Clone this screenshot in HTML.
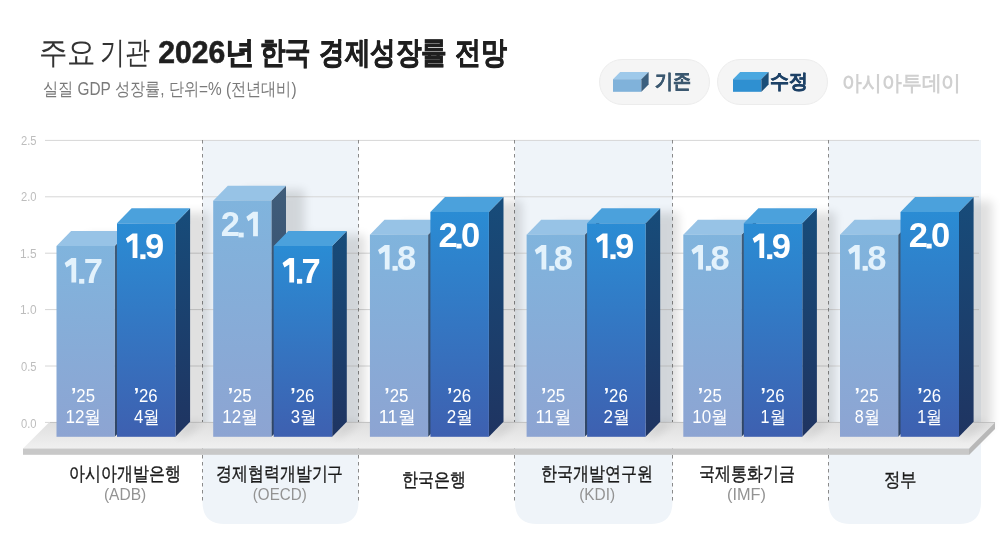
<!DOCTYPE html><html><head><meta charset="utf-8"><style>
html,body{margin:0;padding:0;background:#fff;}
#c{position:relative;width:1000px;height:538px;overflow:hidden;}
</style></head><body><div id="c"><svg width="1000" height="538" viewBox="0 0 1000 538" style="position:absolute;left:0;top:0;will-change:transform"><defs>
<linearGradient id="lf" x1="0" y1="0" x2="0" y2="1"><stop offset="0" stop-color="#80b4dd"/><stop offset="1" stop-color="#8da4d2"/></linearGradient>
<linearGradient id="df" x1="0" y1="0" x2="0" y2="1"><stop offset="0" stop-color="#2a8cd4"/><stop offset="1" stop-color="#3e60b0"/></linearGradient>
<linearGradient id="ds" x1="0" y1="0" x2="0" y2="1"><stop offset="0" stop-color="#174c7a"/><stop offset="1" stop-color="#1f3461"/></linearGradient>
<linearGradient id="ls" x1="0" y1="0" x2="0" y2="1"><stop offset="0" stop-color="#405d7a"/><stop offset="1" stop-color="#2f4566"/></linearGradient>
<linearGradient id="pt" x1="0" y1="0" x2="0" y2="1"><stop offset="0" stop-color="#dfdfdf"/><stop offset="1" stop-color="#f0f0f0"/></linearGradient>
<filter id="blur" x="-50%" y="-50%" width="200%" height="200%"><feGaussianBlur stdDeviation="7"/></filter>
</defs><path d="M202.5,140 H358.5 V502 Q358.5,524 336.5,524 H224.5 Q202.5,524 202.5,502 Z" fill="#eff4f9"/><path d="M515,140 H672.5 V502 Q672.5,524 650.5,524 H537 Q515,524 515,502 Z" fill="#eff4f9"/><path d="M828.5,140 H981 V502 Q981,524 959,524 H850.5 Q828.5,524 828.5,502 Z" fill="#eff4f9"/><line x1="45" y1="140.40" x2="979" y2="140.40" stroke="#d6d6d6" stroke-width="1"/><line x1="45" y1="196.80" x2="979" y2="196.80" stroke="#d6d6d6" stroke-width="1"/><line x1="45" y1="253.20" x2="979" y2="253.20" stroke="#d6d6d6" stroke-width="1"/><line x1="45" y1="309.60" x2="979" y2="309.60" stroke="#d6d6d6" stroke-width="1"/><line x1="45" y1="366.00" x2="979" y2="366.00" stroke="#d6d6d6" stroke-width="1"/><line x1="45" y1="422.40" x2="979" y2="422.40" stroke="#d6d6d6" stroke-width="1"/><line x1="202.5" y1="140" x2="202.5" y2="502" stroke="#8a8a8a" stroke-width="1" stroke-dasharray="3.5,3.5"/><line x1="358.5" y1="140" x2="358.5" y2="502" stroke="#8a8a8a" stroke-width="1" stroke-dasharray="3.5,3.5"/><line x1="514.5" y1="140" x2="514.5" y2="502" stroke="#8a8a8a" stroke-width="1" stroke-dasharray="3.5,3.5"/><line x1="672.5" y1="140" x2="672.5" y2="502" stroke="#8a8a8a" stroke-width="1" stroke-dasharray="3.5,3.5"/><line x1="828.5" y1="140" x2="828.5" y2="502" stroke="#8a8a8a" stroke-width="1" stroke-dasharray="3.5,3.5"/><filter id="sb" x="-50%" y="-50%" width="200%" height="200%"><feGaussianBlur stdDeviation="5"/></filter><g filter="url(#sb)" opacity="0.12" transform="translate(18,4)"><polygon points="56.5,245.99000000000004 71.5,230.99000000000004 129.7,230.99000000000004 129.7,421.8 114.7,436.8 56.5,436.8" fill="#000"/><polygon points="117.0,223.33000000000004 132.0,208.33000000000004 190.5,208.33000000000004 190.5,421.8 175.5,436.8 117.0,436.8" fill="#000"/><polygon points="213.2,200.67000000000002 228.2,185.67000000000002 286.4,185.67000000000002 286.4,421.8 271.4,436.8 213.2,436.8" fill="#000"/><polygon points="273.7,245.99000000000004 288.7,230.99000000000004 347.2,230.99000000000004 347.2,421.8 332.2,436.8 273.7,436.8" fill="#000"/><polygon points="369.9,234.66000000000003 384.9,219.66000000000003 443.09999999999997,219.66000000000003 443.09999999999997,421.8 428.09999999999997,436.8 369.9,436.8" fill="#000"/><polygon points="430.4,212.00000000000003 445.4,197.00000000000003 503.9,197.00000000000003 503.9,421.8 488.9,436.8 430.4,436.8" fill="#000"/><polygon points="526.5999999999999,234.66000000000003 541.5999999999999,219.66000000000003 599.8,219.66000000000003 599.8,421.8 584.8,436.8 526.5999999999999,436.8" fill="#000"/><polygon points="587.0999999999999,223.33000000000004 602.0999999999999,208.33000000000004 660.5999999999999,208.33000000000004 660.5999999999999,421.8 645.5999999999999,436.8 587.0999999999999,436.8" fill="#000"/><polygon points="683.3,234.66000000000003 698.3,219.66000000000003 756.5,219.66000000000003 756.5,421.8 741.5,436.8 683.3,436.8" fill="#000"/><polygon points="743.8,223.33000000000004 758.8,208.33000000000004 817.3,208.33000000000004 817.3,421.8 802.3,436.8 743.8,436.8" fill="#000"/><polygon points="840.0,234.66000000000003 855.0,219.66000000000003 913.2,219.66000000000003 913.2,421.8 898.2,436.8 840.0,436.8" fill="#000"/><polygon points="900.5,212.00000000000003 915.5,197.00000000000003 974.0,197.00000000000003 974.0,421.8 959.0,436.8 900.5,436.8" fill="#000"/></g><polygon points="49,422.5 995,422.5 969,448.5 23,448.5" fill="url(#pt)"/><line x1="50" y1="422.5" x2="995" y2="422.5" stroke="#c4c4c4" stroke-width="1"/><rect x="23" y="448.5" width="946" height="6.3" fill="#c8c8c8"/><polygon points="995,422.5 995,429 969,455 969,448.5" fill="#b8b8b8"/><filter id="pb" x="-50%" y="-50%" width="200%" height="200%"><feGaussianBlur stdDeviation="4"/></filter><g filter="url(#pb)" opacity="0.10"><polygon points="175.5,436.8 190.5,421.8 204.5,421.8 183.5,436.8" fill="#000"/><polygon points="332.2,436.8 347.2,421.8 361.2,421.8 340.2,436.8" fill="#000"/><polygon points="488.9,436.8 503.9,421.8 517.9,421.8 496.9,436.8" fill="#000"/><polygon points="645.5999999999999,436.8 660.5999999999999,421.8 674.5999999999999,421.8 653.5999999999999,436.8" fill="#000"/><polygon points="802.3,436.8 817.3,421.8 831.3,421.8 810.3,436.8" fill="#000"/><polygon points="959.0,436.8 974.0,421.8 988.0,421.8 967.0,436.8" fill="#000"/></g><polygon points="114.7,245.99000000000004 129.3,230.99000000000004 129.3,421.8 114.7,436.8" fill="url(#ls)"/><polygon points="56.5,245.99000000000004 71.1,230.99000000000004 129.3,230.99000000000004 114.7,245.99000000000004" fill="#97c3e6"/><rect x="56.5" y="245.99000000000004" width="58.2" height="190.80999999999997" fill="url(#lf)"/><polygon points="175.5,223.33000000000004 190.1,208.33000000000004 190.1,421.8 175.5,436.8" fill="url(#ds)"/><polygon points="117.0,223.33000000000004 131.6,208.33000000000004 190.1,208.33000000000004 175.5,223.33000000000004" fill="#4ba1dc"/><rect x="117.0" y="223.33000000000004" width="58.5" height="213.46999999999997" fill="url(#df)"/><polygon points="271.4,200.67000000000002 286.0,185.67000000000002 286.0,421.8 271.4,436.8" fill="url(#ls)"/><polygon points="213.2,200.67000000000002 227.79999999999998,185.67000000000002 286.0,185.67000000000002 271.4,200.67000000000002" fill="#97c3e6"/><rect x="213.2" y="200.67000000000002" width="58.2" height="236.13" fill="url(#lf)"/><polygon points="332.2,245.99000000000004 346.8,230.99000000000004 346.8,421.8 332.2,436.8" fill="url(#ds)"/><polygon points="273.7,245.99000000000004 288.3,230.99000000000004 346.8,230.99000000000004 332.2,245.99000000000004" fill="#4ba1dc"/><rect x="273.7" y="245.99000000000004" width="58.5" height="190.80999999999997" fill="url(#df)"/><polygon points="428.09999999999997,234.66000000000003 442.7,219.66000000000003 442.7,421.8 428.09999999999997,436.8" fill="url(#ls)"/><polygon points="369.9,234.66000000000003 384.5,219.66000000000003 442.7,219.66000000000003 428.09999999999997,234.66000000000003" fill="#97c3e6"/><rect x="369.9" y="234.66000000000003" width="58.2" height="202.14" fill="url(#lf)"/><polygon points="488.9,212.00000000000003 503.5,197.00000000000003 503.5,421.8 488.9,436.8" fill="url(#ds)"/><polygon points="430.4,212.00000000000003 445.0,197.00000000000003 503.5,197.00000000000003 488.9,212.00000000000003" fill="#4ba1dc"/><rect x="430.4" y="212.00000000000003" width="58.5" height="224.79999999999998" fill="url(#df)"/><polygon points="584.8,234.66000000000003 599.4,219.66000000000003 599.4,421.8 584.8,436.8" fill="url(#ls)"/><polygon points="526.5999999999999,234.66000000000003 541.1999999999999,219.66000000000003 599.4,219.66000000000003 584.8,234.66000000000003" fill="#97c3e6"/><rect x="526.5999999999999" y="234.66000000000003" width="58.2" height="202.14" fill="url(#lf)"/><polygon points="645.5999999999999,223.33000000000004 660.1999999999999,208.33000000000004 660.1999999999999,421.8 645.5999999999999,436.8" fill="url(#ds)"/><polygon points="587.0999999999999,223.33000000000004 601.6999999999999,208.33000000000004 660.1999999999999,208.33000000000004 645.5999999999999,223.33000000000004" fill="#4ba1dc"/><rect x="587.0999999999999" y="223.33000000000004" width="58.5" height="213.46999999999997" fill="url(#df)"/><polygon points="741.5,234.66000000000003 756.1,219.66000000000003 756.1,421.8 741.5,436.8" fill="url(#ls)"/><polygon points="683.3,234.66000000000003 697.9,219.66000000000003 756.1,219.66000000000003 741.5,234.66000000000003" fill="#97c3e6"/><rect x="683.3" y="234.66000000000003" width="58.2" height="202.14" fill="url(#lf)"/><polygon points="802.3,223.33000000000004 816.9,208.33000000000004 816.9,421.8 802.3,436.8" fill="url(#ds)"/><polygon points="743.8,223.33000000000004 758.4,208.33000000000004 816.9,208.33000000000004 802.3,223.33000000000004" fill="#4ba1dc"/><rect x="743.8" y="223.33000000000004" width="58.5" height="213.46999999999997" fill="url(#df)"/><polygon points="898.2,234.66000000000003 912.8000000000001,219.66000000000003 912.8000000000001,421.8 898.2,436.8" fill="url(#ls)"/><polygon points="840.0,234.66000000000003 854.6,219.66000000000003 912.8000000000001,219.66000000000003 898.2,234.66000000000003" fill="#97c3e6"/><rect x="840.0" y="234.66000000000003" width="58.2" height="202.14" fill="url(#lf)"/><polygon points="959.0,212.00000000000003 973.6,197.00000000000003 973.6,421.8 959.0,436.8" fill="url(#ds)"/><polygon points="900.5,212.00000000000003 915.1,197.00000000000003 973.6,197.00000000000003 959.0,212.00000000000003" fill="#4ba1dc"/><rect x="900.5" y="212.00000000000003" width="58.5" height="224.79999999999998" fill="url(#df)"/><rect x="599.5" y="59.5" width="110" height="45" rx="22.5" fill="#f5f5f5" stroke="#ececec" stroke-width="1"/><rect x="717.5" y="59.5" width="110" height="45" rx="22.5" fill="#f5f5f5" stroke="#ececec" stroke-width="1"/><polygon points="613,79.2 620.2,72.0 648.6,72.0 641.4,79.2" fill="#9ec9ea"/><rect x="613" y="79.2" width="28.4" height="12.6" fill="#80b2da"/><polygon points="641.4,79.2 648.6,72.0 648.6,84.6 641.4,91.8" fill="#3b5f7e"/><polygon points="733,79.2 740.2,72.0 768.6,72.0 761.4,79.2" fill="#4ba8e0"/><rect x="733" y="79.2" width="28.4" height="12.6" fill="#2f90d1"/><polygon points="761.4,79.2 768.6,72.0 768.6,84.6 761.4,91.8" fill="#1b4e78"/><g style="font-family:'Liberation Sans',sans-serif"><text id="tw0" x="38.75" y="63.10" font-size="31.40" font-weight="normal" fill="#333" textLength="57.0" lengthAdjust="spacingAndGlyphs">주요</text><text id="tw1" x="99.70" y="63.10" font-size="31.40" font-weight="normal" fill="#333" textLength="50.0" lengthAdjust="spacingAndGlyphs">기관</text><text id="tw2" x="158.20" y="63.10" font-size="31.40" font-weight="bold" fill="#1f1f1f" textLength="96.84" lengthAdjust="spacingAndGlyphs" stroke="#1f1f1f" stroke-width="0.6">2026년</text><text id="tw3" x="259.80" y="63.10" font-size="31.40" font-weight="bold" fill="#1f1f1f" textLength="51.0" lengthAdjust="spacingAndGlyphs" stroke="#1f1f1f" stroke-width="0.6">한국</text><text id="tw4" x="319.00" y="63.10" font-size="31.40" font-weight="bold" fill="#1f1f1f" textLength="128.0" lengthAdjust="spacingAndGlyphs" stroke="#1f1f1f" stroke-width="0.6">경제성장률</text><text id="tw5" x="455.00" y="63.10" font-size="31.40" font-weight="bold" fill="#1f1f1f" textLength="52.0" lengthAdjust="spacingAndGlyphs" stroke="#1f1f1f" stroke-width="0.6">전망</text><text id="sub" x="42.90" y="95.00" font-size="18.30" font-weight="normal" fill="#7a7a7a" textLength="253.8" lengthAdjust="spacingAndGlyphs">실질 GDP 성장률, 단위=% (전년대비)</text><text id="leg1" x="654.50" y="87.90" font-size="19.90" font-weight="bold" fill="#3b5870" textLength="36.0" lengthAdjust="spacingAndGlyphs" stroke="#3b5870" stroke-width="0.5">기존</text><text id="leg2" x="769.75" y="87.90" font-size="19.90" font-weight="bold" fill="#1d4166" textLength="38.0" lengthAdjust="spacingAndGlyphs" stroke="#1d4166" stroke-width="0.5">수정</text><text id="logo" x="842.20" y="89.60" font-size="20.50" font-weight="bold" fill="#d0d0d0" textLength="119.0" lengthAdjust="spacingAndGlyphs">아시아투데이</text><text id="ax2.5" x="21.00" y="144.50" font-size="11.90" font-weight="normal" fill="#bdbdbd" textLength="15.53" lengthAdjust="spacingAndGlyphs">2.5</text><text id="ax2.0" x="21.00" y="201.10" font-size="11.90" font-weight="normal" fill="#bdbdbd" textLength="15.53" lengthAdjust="spacingAndGlyphs">2.0</text><text id="ax1.5" x="20.00" y="257.70" font-size="11.90" font-weight="normal" fill="#bdbdbd" textLength="16.53" lengthAdjust="spacingAndGlyphs">1.5</text><text id="ax1.0" x="20.00" y="314.30" font-size="11.90" font-weight="normal" fill="#bdbdbd" textLength="16.53" lengthAdjust="spacingAndGlyphs">1.0</text><text id="ax0.5" x="21.00" y="370.90" font-size="11.90" font-weight="normal" fill="#bdbdbd" textLength="15.53" lengthAdjust="spacingAndGlyphs">0.5</text><text id="ax0.0" x="21.00" y="427.50" font-size="11.90" font-weight="normal" fill="#bdbdbd" textLength="15.53" lengthAdjust="spacingAndGlyphs">0.0</text><path d="M71.40,258.10 H76.20 V282.50 H71.40 V264.40 L66.50,267.50 L64.60,263.10 Z" fill="#e3f2fc"/><rect x="79.10" y="278.90" width="5.2" height="4.8" fill="#e3f2fc"/><text x="83.70" y="282.60" font-size="34.5" font-weight="bold" fill="#e3f2fc">7</text><path d="M132.60,233.50 H137.40 V257.90 H132.60 V239.80 L127.70,242.90 L125.80,238.50 Z" fill="#ffffff"/><rect x="140.30" y="254.30" width="5.2" height="4.8" fill="#ffffff"/><text x="144.90" y="258.00" font-size="34.5" font-weight="bold" fill="#ffffff">9</text><text id="d0a" x="70.95" y="401.70" font-size="18.00" font-weight="normal" fill="#fff" textLength="24.03" lengthAdjust="spacingAndGlyphs"><tspan font-weight="bold" font-size="1.15em">’</tspan>25</text><text id="d0b" x="65.45" y="423.30" font-size="18.00" font-weight="normal" fill="#fff" textLength="36.03" lengthAdjust="spacingAndGlyphs">12월</text><text id="d0c" x="133.65" y="401.70" font-size="18.00" font-weight="normal" fill="#fff" textLength="24.03" lengthAdjust="spacingAndGlyphs"><tspan font-weight="bold" font-size="1.15em">’</tspan>26</text><text id="d0e" x="134.00" y="423.30" font-size="18.00" font-weight="normal" fill="#fff" textLength="26.02" lengthAdjust="spacingAndGlyphs">4월</text><text id="n0" x="69.40" y="480.30" font-size="18.50" font-weight="normal" fill="#1a1a1a" textLength="112.0" lengthAdjust="spacingAndGlyphs" stroke="#1a1a1a" stroke-width="0.35">아시아개발은행</text><text id="n0s" x="103.90" y="499.70" font-size="16.30" font-weight="normal" fill="#939393" textLength="42.33" lengthAdjust="spacingAndGlyphs">(ADB)</text><text x="220.70" y="236.30" font-size="34.5" font-weight="bold" fill="#e3f2fc">2</text><rect x="238.50" y="232.60" width="5.2" height="4.8" fill="#e3f2fc"/><path d="M253.10,211.80 H257.90 V236.20 H253.10 V218.10 L248.20,221.20 L246.30,216.80 Z" fill="#e3f2fc"/><path d="M289.30,258.10 H294.10 V282.50 H289.30 V264.40 L284.40,267.50 L282.50,263.10 Z" fill="#ffffff"/><rect x="297.00" y="278.90" width="5.2" height="4.8" fill="#ffffff"/><text x="301.60" y="282.60" font-size="34.5" font-weight="bold" fill="#ffffff">7</text><text id="d1a" x="227.65" y="401.70" font-size="18.00" font-weight="normal" fill="#fff" textLength="24.03" lengthAdjust="spacingAndGlyphs"><tspan font-weight="bold" font-size="1.15em">’</tspan>25</text><text id="d1b" x="222.15" y="423.30" font-size="18.00" font-weight="normal" fill="#fff" textLength="36.03" lengthAdjust="spacingAndGlyphs">12월</text><text id="d1c" x="290.35" y="401.70" font-size="18.00" font-weight="normal" fill="#fff" textLength="24.03" lengthAdjust="spacingAndGlyphs"><tspan font-weight="bold" font-size="1.15em">’</tspan>26</text><text id="d1e" x="290.65" y="423.30" font-size="18.00" font-weight="normal" fill="#fff" textLength="26.02" lengthAdjust="spacingAndGlyphs">3월</text><text id="n1" x="216.30" y="480.30" font-size="18.50" font-weight="normal" fill="#1a1a1a" textLength="127.0" lengthAdjust="spacingAndGlyphs" stroke="#1a1a1a" stroke-width="0.35">경제협력개발기구</text><text id="n1s" x="252.80" y="499.70" font-size="16.30" font-weight="normal" fill="#939393" textLength="53.89" lengthAdjust="spacingAndGlyphs">(OECD)</text><path d="M384.80,245.10 H389.60 V269.50 H384.80 V251.40 L379.90,254.50 L378.00,250.10 Z" fill="#e3f2fc"/><rect x="392.50" y="265.90" width="5.2" height="4.8" fill="#e3f2fc"/><text x="397.10" y="269.60" font-size="34.5" font-weight="bold" fill="#e3f2fc">8</text><text x="438.60" y="247.40" font-size="34.5" font-weight="bold" fill="#ffffff">2</text><rect x="456.40" y="243.70" width="5.2" height="4.8" fill="#ffffff"/><text x="461.00" y="247.40" font-size="34.5" font-weight="bold" fill="#ffffff">0</text><text id="d2a" x="384.35" y="401.70" font-size="18.00" font-weight="normal" fill="#fff" textLength="24.03" lengthAdjust="spacingAndGlyphs"><tspan font-weight="bold" font-size="1.15em">’</tspan>25</text><text id="d2b" x="378.85" y="423.30" font-size="18.00" font-weight="normal" fill="#fff" textLength="36.69" lengthAdjust="spacingAndGlyphs">11월</text><text id="d2c" x="447.05" y="401.70" font-size="18.00" font-weight="normal" fill="#fff" textLength="24.03" lengthAdjust="spacingAndGlyphs"><tspan font-weight="bold" font-size="1.15em">’</tspan>26</text><text id="d2e" x="446.73" y="423.30" font-size="18.00" font-weight="normal" fill="#fff" textLength="26.52" lengthAdjust="spacingAndGlyphs">2월</text><text id="n2" x="402.00" y="486.40" font-size="18.50" font-weight="normal" fill="#1a1a1a" textLength="64.0" lengthAdjust="spacingAndGlyphs" stroke="#1a1a1a" stroke-width="0.35">한국은행</text><path d="M541.50,245.10 H546.30 V269.50 H541.50 V251.40 L536.60,254.50 L534.70,250.10 Z" fill="#e3f2fc"/><rect x="549.20" y="265.90" width="5.2" height="4.8" fill="#e3f2fc"/><text x="553.80" y="269.60" font-size="34.5" font-weight="bold" fill="#e3f2fc">8</text><path d="M602.70,233.50 H607.50 V257.90 H602.70 V239.80 L597.80,242.90 L595.90,238.50 Z" fill="#ffffff"/><rect x="610.40" y="254.30" width="5.2" height="4.8" fill="#ffffff"/><text x="615.00" y="258.00" font-size="34.5" font-weight="bold" fill="#ffffff">9</text><text id="d3a" x="541.05" y="401.70" font-size="18.00" font-weight="normal" fill="#fff" textLength="24.03" lengthAdjust="spacingAndGlyphs"><tspan font-weight="bold" font-size="1.15em">’</tspan>25</text><text id="d3b" x="535.55" y="423.30" font-size="18.00" font-weight="normal" fill="#fff" textLength="35.69" lengthAdjust="spacingAndGlyphs">11월</text><text id="d3c" x="603.75" y="401.70" font-size="18.00" font-weight="normal" fill="#fff" textLength="24.03" lengthAdjust="spacingAndGlyphs"><tspan font-weight="bold" font-size="1.15em">’</tspan>26</text><text id="d3e" x="603.38" y="423.30" font-size="18.00" font-weight="normal" fill="#fff" textLength="26.52" lengthAdjust="spacingAndGlyphs">2월</text><text id="n3" x="541.40" y="480.30" font-size="18.50" font-weight="normal" fill="#1a1a1a" textLength="112.0" lengthAdjust="spacingAndGlyphs" stroke="#1a1a1a" stroke-width="0.35">한국개발연구원</text><text id="n3s" x="579.20" y="499.70" font-size="16.30" font-weight="normal" fill="#939393" textLength="35.98" lengthAdjust="spacingAndGlyphs">(KDI)</text><path d="M698.20,245.10 H703.00 V269.50 H698.20 V251.40 L693.30,254.50 L691.40,250.10 Z" fill="#e3f2fc"/><rect x="705.90" y="265.90" width="5.2" height="4.8" fill="#e3f2fc"/><text x="710.50" y="269.60" font-size="34.5" font-weight="bold" fill="#e3f2fc">8</text><path d="M759.40,233.50 H764.20 V257.90 H759.40 V239.80 L754.50,242.90 L752.60,238.50 Z" fill="#ffffff"/><rect x="767.10" y="254.30" width="5.2" height="4.8" fill="#ffffff"/><text x="771.70" y="258.00" font-size="34.5" font-weight="bold" fill="#ffffff">9</text><text id="d4a" x="697.75" y="401.70" font-size="18.00" font-weight="normal" fill="#fff" textLength="24.03" lengthAdjust="spacingAndGlyphs"><tspan font-weight="bold" font-size="1.15em">’</tspan>25</text><text id="d4b" x="692.15" y="423.30" font-size="18.00" font-weight="normal" fill="#fff" textLength="36.03" lengthAdjust="spacingAndGlyphs">10월</text><text id="d4c" x="760.45" y="401.70" font-size="18.00" font-weight="normal" fill="#fff" textLength="24.03" lengthAdjust="spacingAndGlyphs"><tspan font-weight="bold" font-size="1.15em">’</tspan>26</text><text id="d4e" x="760.60" y="423.30" font-size="18.00" font-weight="normal" fill="#fff" textLength="25.02" lengthAdjust="spacingAndGlyphs">1월</text><text id="n4" x="698.80" y="480.30" font-size="18.50" font-weight="normal" fill="#1a1a1a" textLength="96.0" lengthAdjust="spacingAndGlyphs" stroke="#1a1a1a" stroke-width="0.35">국제통화기금</text><text id="n4s" x="727.00" y="499.70" font-size="16.30" font-weight="normal" fill="#939393" textLength="38.87" lengthAdjust="spacingAndGlyphs">(IMF)</text><path d="M854.90,245.10 H859.70 V269.50 H854.90 V251.40 L850.00,254.50 L848.10,250.10 Z" fill="#e3f2fc"/><rect x="862.60" y="265.90" width="5.2" height="4.8" fill="#e3f2fc"/><text x="867.20" y="269.60" font-size="34.5" font-weight="bold" fill="#e3f2fc">8</text><text x="908.70" y="247.40" font-size="34.5" font-weight="bold" fill="#ffffff">2</text><rect x="926.50" y="243.70" width="5.2" height="4.8" fill="#ffffff"/><text x="931.10" y="247.40" font-size="34.5" font-weight="bold" fill="#ffffff">0</text><text id="d5a" x="854.45" y="401.70" font-size="18.00" font-weight="normal" fill="#fff" textLength="24.03" lengthAdjust="spacingAndGlyphs"><tspan font-weight="bold" font-size="1.15em">’</tspan>25</text><text id="d5b" x="854.75" y="423.30" font-size="18.00" font-weight="normal" fill="#fff" textLength="25.02" lengthAdjust="spacingAndGlyphs">8월</text><text id="d5c" x="917.15" y="401.70" font-size="18.00" font-weight="normal" fill="#fff" textLength="24.03" lengthAdjust="spacingAndGlyphs"><tspan font-weight="bold" font-size="1.15em">’</tspan>26</text><text id="d5e" x="917.30" y="423.30" font-size="18.00" font-weight="normal" fill="#fff" textLength="25.02" lengthAdjust="spacingAndGlyphs">1월</text><text id="n5" x="883.80" y="486.40" font-size="18.50" font-weight="normal" fill="#1a1a1a" textLength="33.0" lengthAdjust="spacingAndGlyphs" stroke="#1a1a1a" stroke-width="0.35">정부</text></g></svg></div></body></html>
